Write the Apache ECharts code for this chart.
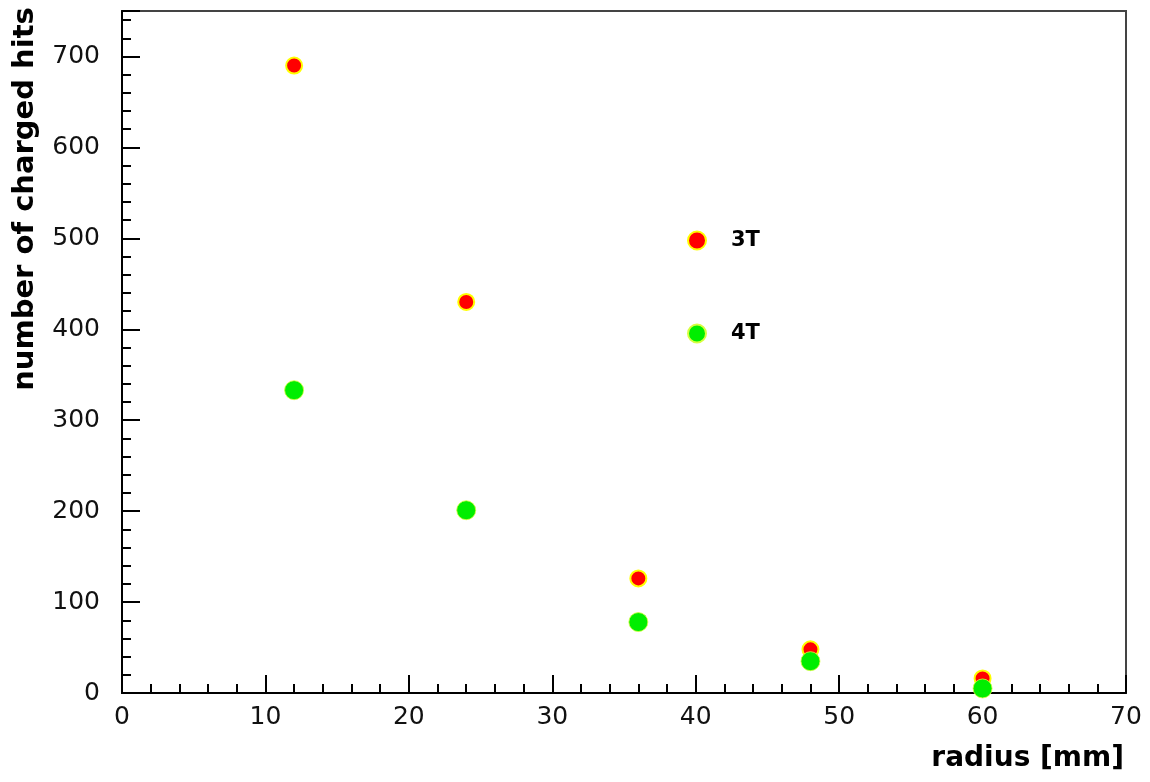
<!DOCTYPE html>
<html>
<head>
<meta charset="utf-8">
<script src="https://cdn.jsdelivr.net/npm/echarts@6/dist/echarts.min.js"></script>
<style>
  html, body { margin: 0; padding: 0; background: #fff; }
  #main { width: 1150px; height: 782px; }
</style>
</head>
<body>
<div id="main"></div>
<script>
// radius in mm, hits per radius
var radius = [12, 24, 36, 48, 60];
var hits3T = [690, 430, 126, 48, 16];
var hits4T = [333, 201, 78, 35, 5];

function pairs(xs, ys) {
  return xs.map(function (x, i) { return [x, ys[i]]; });
}

var chart = echarts.init(document.getElementById('main'));

var tickFont = { fontFamily: 'DejaVu Sans', fontSize: 25, color: '#111' };

var option = {
  backgroundColor: '#fff',
  animation: false,
  grid: { left: 122, right: 24, top: 11, bottom: 89, show: true, borderColor: '#444', borderWidth: 2 },
  legend: {
    orient: 'vertical',
    left: 682,
    top: 225,
    itemWidth: 18,
    itemHeight: 18,
    itemGap: 72,
    icon: 'circle',
    textStyle: {
      fontFamily: 'DejaVu Sans', fontWeight: 'bold', fontSize: 21,
      color: '#000', padding: [0, 0, 0, 20]
    },
    data: ['3T', '4T']
  },
  xAxis: {
    type: 'value', min: 0, max: 70, interval: 10,
    axisLine: { lineStyle: { color: '#000', width: 2 } },
    axisTick: { inside: true, length: 18, lineStyle: { color: '#000', width: 2 } },
    minorTick: { show: true, splitNumber: 5, length: 9, lineStyle: { color: '#000', width: 2 } },
    splitLine: { show: false },
    axisLabel: Object.assign({ margin: 12 }, tickFont)
  },
  yAxis: {
    type: 'value', min: 0, max: 750, interval: 100,
    axisLine: { show: true, lineStyle: { color: '#000', width: 2 } },
    axisTick: { inside: true, length: 18, lineStyle: { color: '#000', width: 2 } },
    minorTick: { show: true, splitNumber: 5, length: 9, lineStyle: { color: '#000', width: 2 } },
    splitLine: { show: false },
    axisLabel: Object.assign({ margin: 22, showMaxLabel: false }, tickFont)
  },
  graphic: [{
    type: 'text', x: 25, y: 199, rotation: Math.PI / 2,
    style: {
      text: 'number of charged hits', fontFamily: 'DejaVu Sans', fontWeight: 'bold',
      fontSize: 29, fill: '#000', align: 'center', verticalAlign: 'middle'
    }
  }, {
    type: 'text', right: 26, top: 745,
    style: {
      text: 'radius [mm]', fontFamily: 'DejaVu Sans', fontWeight: 'bold',
      fontSize: 28, fill: '#000'
    }
  }],
  series: [{
    name: '3T', type: 'scatter', symbol: 'circle', symbolSize: 16,
    itemStyle: { color: '#ff0000', borderColor: '#ffff00', borderWidth: 2, opacity: 1 },
    data: pairs(radius, hits3T)
  }, {
    name: '4T', type: 'scatter', symbol: 'circle', symbolSize: 19,
    itemStyle: { color: '#00ee00', borderColor: '#d8ff40', borderWidth: 0.8, opacity: 1 },
    data: pairs(radius, hits4T)
  }]
};

chart.setOption(option);
</script>
</body>
</html>
